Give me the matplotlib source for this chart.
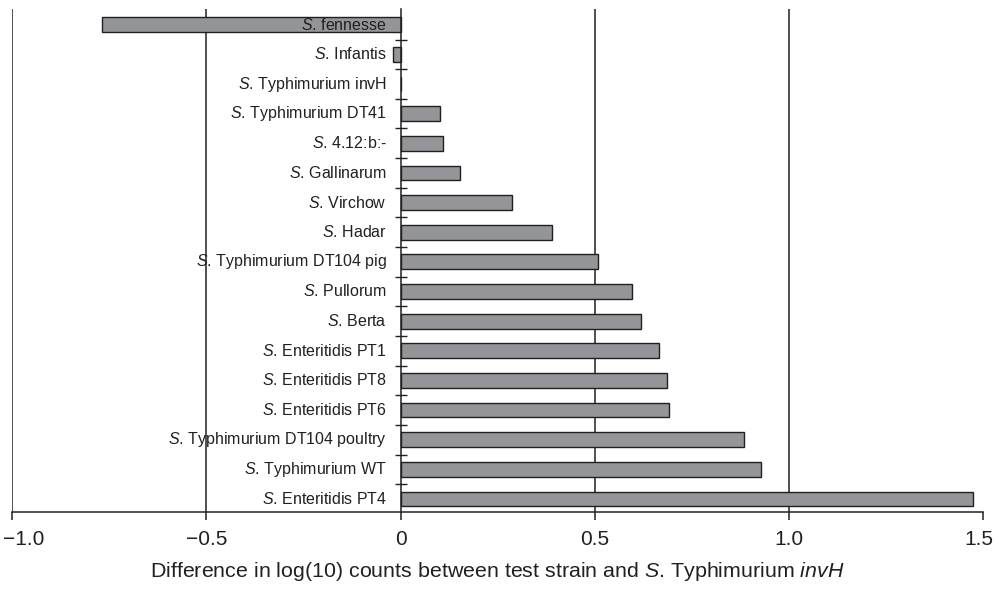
import matplotlib
matplotlib.use("Agg")
import matplotlib.pyplot as plt
from matplotlib.transforms import ScaledTranslation
import numpy as np

plt.rcParams['font.family'] = ['Liberation Sans', 'DejaVu Sans']
plt.rcParams['mathtext.fontset'] = 'custom'
plt.rcParams['mathtext.rm'] = 'Liberation Sans'
plt.rcParams['mathtext.it'] = 'Liberation Sans:italic'

strains = [
    "fennesse", "Infantis", "Typhimurium invH", "Typhimurium DT41", "4.12:b:-",
    "Gallinarum", "Virchow", "Hadar", "Typhimurium DT104 pig", "Pullorum",
    "Berta", "Enteritidis PT1", "Enteritidis PT8", "Enteritidis PT6",
    "Typhimurium DT104 poultry", "Typhimurium WT", "Enteritidis PT4",
]
values = [
    -0.769, -0.020, 0.0, 0.101, 0.108,
    0.152, 0.287, 0.389, 0.509, 0.595,
    0.620, 0.665, 0.685, 0.690,
    0.885, 0.927, 1.475,
]
xticks = [-1.0, -0.5, 0.0, 0.5, 1.0, 1.5]
xticklabels = ["\u22121.0", "\u22120.5", "0", "0.5", "1.0", "1.5"]
gridlines = [-1.0, -0.5, 0.5, 1.0]

ink = '#231f20'
fig = plt.figure(figsize=(10.04, 5.89), dpi=100)
ax = fig.add_axes([0.01225, 0.1302, 0.9670, 0.8540])

y = np.arange(len(strains))
ax.vlines(gridlines, -0.52, len(strains) - 0.55, colors=ink, linewidth=1.1, zorder=1)
ax.barh(y, values, height=0.5, color='#939598', edgecolor=ink, linewidth=1.0, zorder=3)

for yi, name in zip(y, strains):
    ax.annotate(r"$\it{S}$. " + name, xy=(0, yi), xytext=(-10, 0), textcoords='offset points',
                ha='right', va='center', fontsize=11.5, color=ink, zorder=5)

ax.set_xlim(-1.0, 1.5)
ax.set_ylim(len(strains) - 0.55, -0.52)

ax.spines['left'].set_position(('data', 0))
ax.spines['top'].set_visible(False)
ax.spines['right'].set_visible(False)
for s in ('left', 'bottom'):
    ax.spines[s].set_color(ink)
    ax.spines[s].set_linewidth(1.1)
ax.spines['left'].set_zorder(4)

ax.set_yticks(y[:-1] + 0.5)
ax.set_yticklabels([])
ax.tick_params(axis='y', direction='inout', length=8, width=1, color=ink)

ax.set_xticks(xticks)
ax.set_xticklabels(xticklabels)
ax.tick_params(axis='x', direction='out', length=6, width=1.1, color=ink,
               labelsize=15, pad=7, labelcolor=ink)
tl = ax.get_xticklabels()
tl[0].set_transform(tl[0].get_transform() + ScaledTranslation(0.11, 0, fig.dpi_scale_trans))
tl[-1].set_transform(tl[-1].get_transform() + ScaledTranslation(-0.04, 0, fig.dpi_scale_trans))

ax.set_xlabel(r"Difference in log(10) counts between test strain and $\it{S}$. Typhimurium $\it{invH}$",
              fontsize=15.4, color=ink, labelpad=8)

fig.savefig("out.png", dpi=100)
